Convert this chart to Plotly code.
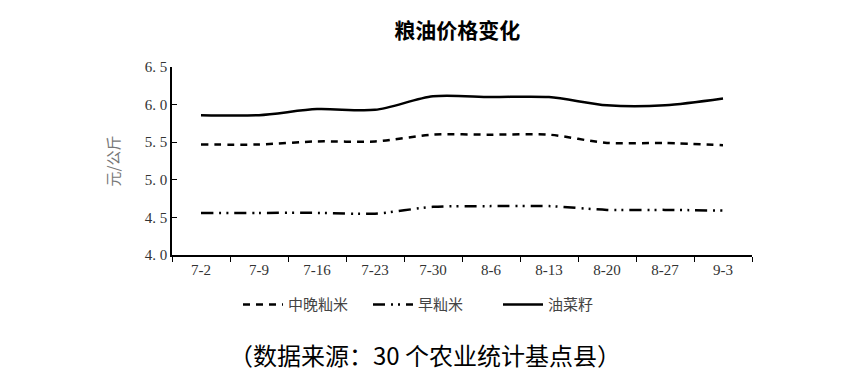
import plotly.graph_objects as go

categories = ["7-2", "7-9", "7-16", "7-23", "7-30", "8-6", "8-13", "8-20", "8-27", "9-3"]
zhongwan = [5.47, 5.47, 5.51, 5.51, 5.60, 5.60, 5.60, 5.49, 5.49, 5.46]
zao = [4.56, 4.56, 4.56, 4.55, 4.64, 4.65, 4.65, 4.60, 4.60, 4.59]
youcai = [5.86, 5.86, 5.94, 5.93, 6.11, 6.10, 6.10, 5.99, 5.99, 6.08]
y_ticks = [4.0, 4.5, 5.0, 5.5, 6.0, 6.5]
y_ticktext = ["4. 0", "4. 5", "5. 0", "5. 5", "6. 0", "6. 5"]

fig = go.Figure()
fig.add_trace(go.Scatter(x=categories, y=zhongwan, name="中晚籼米", mode="lines",
                         line=dict(color="black", width=2.5, dash="7px,6px", shape="spline", smoothing=0.8)))
fig.add_trace(go.Scatter(x=categories, y=zao, name="早籼米", mode="lines",
                         line=dict(color="black", width=2.5, dash="12px,6px,2px,5px,2px,6px", shape="spline", smoothing=0.8)))
fig.add_trace(go.Scatter(x=categories, y=youcai, name="油菜籽", mode="lines",
                         line=dict(color="black", width=2.5, shape="spline", smoothing=0.8)))

fig.update_layout(
    width=863, height=389,
    margin=dict(l=164, r=119, t=59, b=142),
    paper_bgcolor="white", plot_bgcolor="white",
    title=dict(text="<b>粮油价格变化</b>", x=0.492, xref="paper", xanchor="center", y=0.943, yanchor="middle",
               font=dict(family="Noto Sans CJK SC", size=21, color="black")),
    showlegend=True,
    legend=dict(orientation="h", x=0.45, xanchor="center", y=-0.265, yanchor="middle",
                font=dict(family="Noto Sans CJK SC", size=15, color="#444"),
                itemwidth=40, tracegroupgap=0, entrywidth=75, entrywidthmode="pixels"),
    xaxis=dict(type="category", range=[-0.5, 9.5], showline=True, linecolor="black", linewidth=1.5,
               ticks="outside", tickson="boundaries", ticklen=5, tickcolor="black",
               showgrid=False, tickfont=dict(family="Liberation Serif", size=15, color="#333")),
    yaxis=dict(range=[4.0, 6.5], tickvals=y_ticks, ticktext=y_ticktext,
               showline=True, linecolor="black", linewidth=1.5,
               ticks="inside", ticklen=5, tickcolor="black", showgrid=False, zeroline=False,
               tickfont=dict(family="Liberation Serif", size=15, color="#333"),
               title=dict(text="元/公斤", font=dict(family="Noto Sans CJK SC", size=15, color="#777"), standoff=22)),
    annotations=[dict(text="（数据来源：30 个农业统计基点县）", xref="paper", yref="paper",
                      x=0.436, y=-0.53, xanchor="center", yanchor="middle", showarrow=False,
                      font=dict(family="Noto Sans CJK SC", size=24, color="black"))],
)

fig.write_html("out.html")
